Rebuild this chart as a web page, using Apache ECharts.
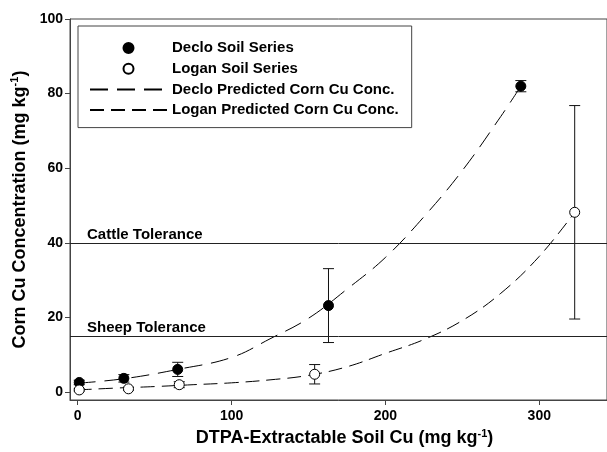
<!DOCTYPE html>
<html>
<head>
<meta charset="utf-8">
<script src="https://cdn.jsdelivr.net/npm/echarts@6/dist/echarts.min.js"></script>
<style>
  html, body { margin: 0; padding: 0; background: #fff; }
  #chart { width: 607px; height: 452px; }
</style>
</head>
<body>
<div id="chart"></div>
<script>
const font = '"Liberation Sans", Arial, sans-serif'

// measured points (x = DTPA soil Cu, y = corn Cu, err = error bar half height)
const decloX = [1, 30, 65, 163, 288]
const decloY = [2.6, 3.7, 6.1, 23.2, 82.0]
const decloErr = [0.6, 1.0, 1.9, 9.9, 1.5]
const loganX = [1, 33, 66, 154, 323]
const loganY = [0.6, 0.9, 2.0, 4.8, 48.2]
const loganErr = [0.3, 0.4, 0.8, 2.6, 28.6]

// predicted curves
const decloCurveX = [0, 30, 65, 100, 125, 150, 175, 200, 225, 250, 275, 288]
const decloCurveY = [2.4, 3.6, 6.1, 9.3, 14.3, 19.8, 27.6, 36.1, 47.0, 59.4, 73.9, 82.0]
const loganCurveX = [0, 25, 50, 75, 100, 125, 150, 175, 200, 225, 250, 275, 300, 323]
const loganCurveY = [0.6, 1.1, 1.5, 2.0, 2.5, 3.3, 4.5, 6.8, 10.4, 14.1, 19.2, 26.5, 36.4, 48.2]

const xTicks = [0, 100, 200, 300]
const yTicks = [0, 20, 40, 60, 80, 100]
const tolerances = [
  { name: 'Cattle Tolerance', value: 40 },
  { name: 'Sheep Tolerance', value: 15 }
]

const zip = (a, b, c) => a.map((v, i) => (c ? [v, b[i], c[i]] : [v, b[i]]))

const errorBars = (params, api) => {
  const x = api.value(0)
  const y = api.value(1)
  const e = api.value(2)
  const top = api.coord([x, y + e])
  const bot = api.coord([x, y - e])
  const w = 5.5
  const style = { stroke: '#111', lineWidth: 1 }
  return {
    type: 'group',
    children: [
      { type: 'line', shape: { x1: top[0], y1: top[1], x2: bot[0], y2: bot[1] }, style },
      { type: 'line', shape: { x1: top[0] - w, y1: top[1], x2: top[0] + w, y2: top[1] }, style },
      { type: 'line', shape: { x1: bot[0] - w, y1: bot[1], x2: bot[0] + w, y2: bot[1] }, style }
    ]
  }
}

const chart = echarts.init(document.getElementById('chart'))
const axisColor = '#444'
const option = {
  animation: false,
  textStyle: { fontFamily: font },
  grid: {
    left: 70,
    top: 19,
    right: -2,
    bottom: 48.3,
    show: true,
    borderColor: axisColor,
    borderWidth: 1
  },
  legend: {
    data: [
      'Declo Soil Series',
      'Logan Soil Series',
      { name: 'Declo Predicted Corn Cu Conc.', itemStyle: { opacity: 0 } },
      { name: 'Logan Predicted Corn Cu Conc.', itemStyle: { opacity: 0 } }
    ],
    orient: 'vertical',
    left: 78,
    top: 26,
    itemWidth: 77,
    itemHeight: 10,
    itemGap: 5.7,
    padding: [14.5, 13, 10, 11],
    borderColor: axisColor,
    borderWidth: 1,
    selectedMode: false,
    textStyle: { fontFamily: font, fontWeight: 'bold', fontSize: 15, color: '#000' }
  },
  xAxis: {
    type: 'value',
    min: -5,
    max: 344,
    name: 'DTPA-Extractable Soil Cu (mg kg{sup|-1})',
    nameLocation: 'middle',
    nameGap: 28,
    nameTextStyle: {
      fontFamily: font, fontWeight: 'bold', fontSize: 18, color: '#000',
      padding: [0, 0, 0, 12],
      rich: { sup: { fontFamily: font, fontWeight: 'bold', fontSize: 11, color: '#000', padding: [0, 0, 9, 0] } }
    },
    splitLine: { show: false },
    axisLine: { onZero: false, lineStyle: { color: axisColor, width: 1 } },
    axisTick: { length: 5, customValues: xTicks, lineStyle: { color: axisColor } },
    axisLabel: { customValues: xTicks, margin: 9, fontFamily: font, fontWeight: 'bold', fontSize: 14, color: '#000' }
  },
  yAxis: {
    type: 'value',
    min: -2.1,
    max: 100,
    name: 'Corn Cu Concentration (mg kg{sup|-1})',
    nameLocation: 'middle',
    nameGap: 39,
    nameTextStyle: {
      fontFamily: font, fontWeight: 'bold', fontSize: 18, color: '#000',
      rich: { sup: { fontFamily: font, fontWeight: 'bold', fontSize: 11, color: '#000', padding: [0, 0, 9, 0] } }
    },
    splitLine: { show: false },
    axisLine: { onZero: false, lineStyle: { color: axisColor, width: 1 } },
    axisTick: { length: 5, customValues: yTicks, lineStyle: { color: axisColor } },
    axisLabel: { customValues: yTicks, margin: 7, fontFamily: font, fontWeight: 'bold', fontSize: 14, color: '#000' }
  },
  series: [
    {
      name: 'Declo Predicted Corn Cu Conc.',
      type: 'line',
      smooth: 0.4,
      showSymbol: false,
      symbol: 'none',
      color: '#000',
      lineStyle: { color: '#000', width: 1, type: [18, 9] },
      data: zip(decloCurveX, decloCurveY),
      markLine: {
        silent: true,
        symbol: 'none',
        lineStyle: { color: '#222', width: 1, type: 'solid' },
        label: {
          position: 'insideStartTop',
          formatter: '{b}',
          distance: [17, 1],
          fontFamily: font,
          fontWeight: 'bold',
          fontSize: 15,
          color: '#000'
        },
        data: tolerances.map(t => ({ name: t.name, yAxis: t.value }))
      }
    },
    {
      name: 'Logan Predicted Corn Cu Conc.',
      type: 'line',
      smooth: 0.4,
      showSymbol: false,
      symbol: 'none',
      color: '#000',
      lineStyle: { color: '#000', width: 1, type: [14, 7] },
      data: zip(loganCurveX, loganCurveY)
    },
    {
      name: 'Declo Error',
      type: 'custom',
      renderItem: errorBars,
      z: 3,
      data: zip(decloX, decloY, decloErr)
    },
    {
      name: 'Logan Error',
      type: 'custom',
      renderItem: errorBars,
      z: 3,
      data: zip(loganX, loganY, loganErr)
    },
    {
      name: 'Declo Soil Series',
      type: 'scatter',
      symbol: 'circle',
      symbolSize: 10,
      z: 5,
      itemStyle: { color: '#000', borderColor: '#000', borderWidth: 1, opacity: 1 },
      data: zip(decloX, decloY)
    },
    {
      name: 'Logan Soil Series',
      type: 'scatter',
      symbol: 'circle',
      symbolSize: 10,
      z: 5,
      itemStyle: { color: '#fff', borderColor: '#000', borderWidth: 1, opacity: 1 },
      data: zip(loganX, loganY)
    }
  ]
}
option && chart.setOption(option)
</script>
</body>
</html>
